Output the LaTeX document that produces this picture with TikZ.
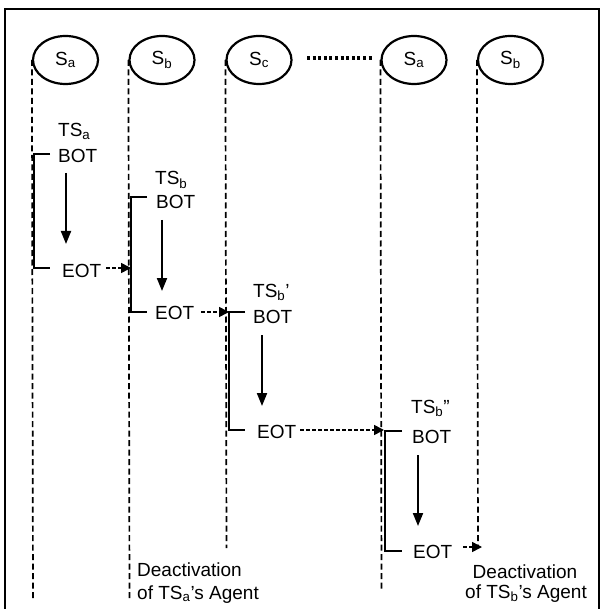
\documentclass[tikz,border=0pt]{standalone}
\usepackage{fontspec}
\setmainfont{Liberation Sans}
\usetikzlibrary{shapes.geometric,arrows.meta}
\begin{document}
\begin{tikzpicture}[x=1pt,y=-1pt,
  every node/.style={font=\fontsize{19}{23}\selectfont},
  proc/.style={ellipse,draw,line width=2.2pt,minimum width=65pt,minimum height=48pt,inner sep=0pt},
  lifeline/.style={line width=1.7pt,dash pattern=on 6pt off 3.5pt},
  act/.style={line width=2.4pt},
  flow/.style={line width=2pt,-{Triangle[length=13pt,width=10pt]}},
  pass/.style={line width=1.6pt,dash pattern=on 3.5pt off 2.5pt,-{Triangle[length=10pt,width=10pt]}},
  lbl/.style={anchor=base west,inner sep=0pt},
  lblc/.style={anchor=base,inner sep=0pt}]
\useasboundingbox (0,0) rectangle (601,609);
\clip (0,0) rectangle (601,609);
\fill[white] (0,0) rectangle (601,609);
% frame (bottom edge lies outside the picture)
\coordinate (f1) at (5,640);
\coordinate (f2) at (5,9);
\coordinate (f3) at (599,9);
\coordinate (f4) at (599,640);
\draw[line width=2.2pt] (f1) -- (f2) -- (f3) -- (f4);

% processes
\node[proc] (sa)  at (65.5,60)  {S\textsubscript{a}};
\node[proc] (sb)  at (162,60)   {S\textsubscript{b}};
\node[proc] (sc)  at (259,60)   {S\textsubscript{c}};
\node[proc] (sa2) at (414,60)   {S\textsubscript{a}};
\node[proc] (sb2) at (510.5,60) {S\textsubscript{b}};

% ellipsis dots
\coordinate (d1) at (307,58);
\coordinate (d2) at (373,58);
\draw[line width=3.2pt,dash pattern=on 3pt off 2.6pt] (d1) -- (d2);

% lifelines
\coordinate (sa-end)  at (33,600);
\coordinate (sb-end)  at (129.5,600);
\coordinate (sc-end)  at (226.5,548);
\coordinate (sa2-end) at (381.5,590);
\coordinate (sb2-end) at (478,547);
\draw[lifeline] (sa.west)  -- (sa-end);
\draw[lifeline] (sb.west)  -- (sb-end);
\draw[lifeline] (sc.west)  -- (sc-end);
\draw[lifeline] (sa2.west) -- (sa2-end);
\draw[lifeline] (sb2.west) -- (sb2-end);

% texts
\node[lbl] (ts1)  at (58,137)  {TS\textsubscript{a}};
\node[lbl] (bot1) at (58,163)  {BOT};
\node[lbl] (eot1) at (62,277)  {EOT};
\node[lbl] (ts2)  at (155,185) {TS\textsubscript{b}};
\node[lbl] (bot2) at (156,209) {BOT};
\node[lbl] (eot2) at (155,319) {EOT};
\node[lbl] (ts3)  at (253,297) {TS\textsubscript{b}'};
\node[lbl] (bot3) at (253,323) {BOT};
\node[lbl] (eot3) at (257,438) {EOT};
\node[lbl] (ts4)  at (411,413) {TS\textsubscript{b}''};
\node[lbl] (bot4) at (412,443) {BOT};
\node[lbl] (eot4) at (413,558) {EOT};
\node[lbl] (deA1) at (137,576) {Deactivation};
\node[lbl] (deA2) at (137,599) {of TS\textsubscript{a}'s Agent};
\node[lblc] (deB1) at (525,578) {Deactivation};
\node[lblc] (deB2) at (526,598) {of TS\textsubscript{b}'s Agent};

% activations of transactions
\coordinate (a1t) at (50,154);  \coordinate (a1s) at (34,154);
\coordinate (a1e) at (34,268);  \coordinate (a1u) at (50,268);
\coordinate (a2t) at (147,197); \coordinate (a2s) at (131,197);
\coordinate (a2e) at (131,312); \coordinate (a2u) at (147,312);
\coordinate (a3t) at (245,312); \coordinate (a3s) at (229,312);
\coordinate (a3e) at (229,430); \coordinate (a3u) at (245,430);
\coordinate (a4t) at (402,431); \coordinate (a4s) at (385,431);
\coordinate (a4e) at (385,551); \coordinate (a4u) at (402,551);
\draw[act] (a1t) -- (a1s) -- (a1e) -- (a1u);
\draw[act] (a2t) -- (a2s) -- (a2e) -- (a2u);
\draw[act] (a3t) -- (a3s) -- (a3e) -- (a3u);
\draw[act] (a4t) -- (a4s) -- (a4e) -- (a4u);

% progress arrows
\coordinate (p1a) at (66,173);  \coordinate (p1b) at (66,244);
\coordinate (p2a) at (162,220); \coordinate (p2b) at (162,291);
\coordinate (p3a) at (262,335); \coordinate (p3b) at (262,406);
\coordinate (p4a) at (418,455); \coordinate (p4b) at (418,526);
\draw[flow] (p1a) -- (p1b);
\draw[flow] (p2a) -- (p2b);
\draw[flow] (p3a) -- (p3b);
\draw[flow] (p4a) -- (p4b);

% hand-over arrows
\coordinate (h1a) at (106,268); \coordinate (h1b) at (131,268);
\coordinate (h2a) at (201,312); \coordinate (h2b) at (229,312);
\coordinate (h3a) at (300,430); \coordinate (h3b) at (384,430);
\coordinate (h4a) at (463,547); \coordinate (h4b) at (482,547);
\draw[pass] (h1a) -- (h1b);
\draw[pass] (h2a) -- (h2b);
\draw[pass] (h3a) -- (h3b);
\draw[pass] (h4a) -- (h4b);
\end{tikzpicture}
\end{document}
